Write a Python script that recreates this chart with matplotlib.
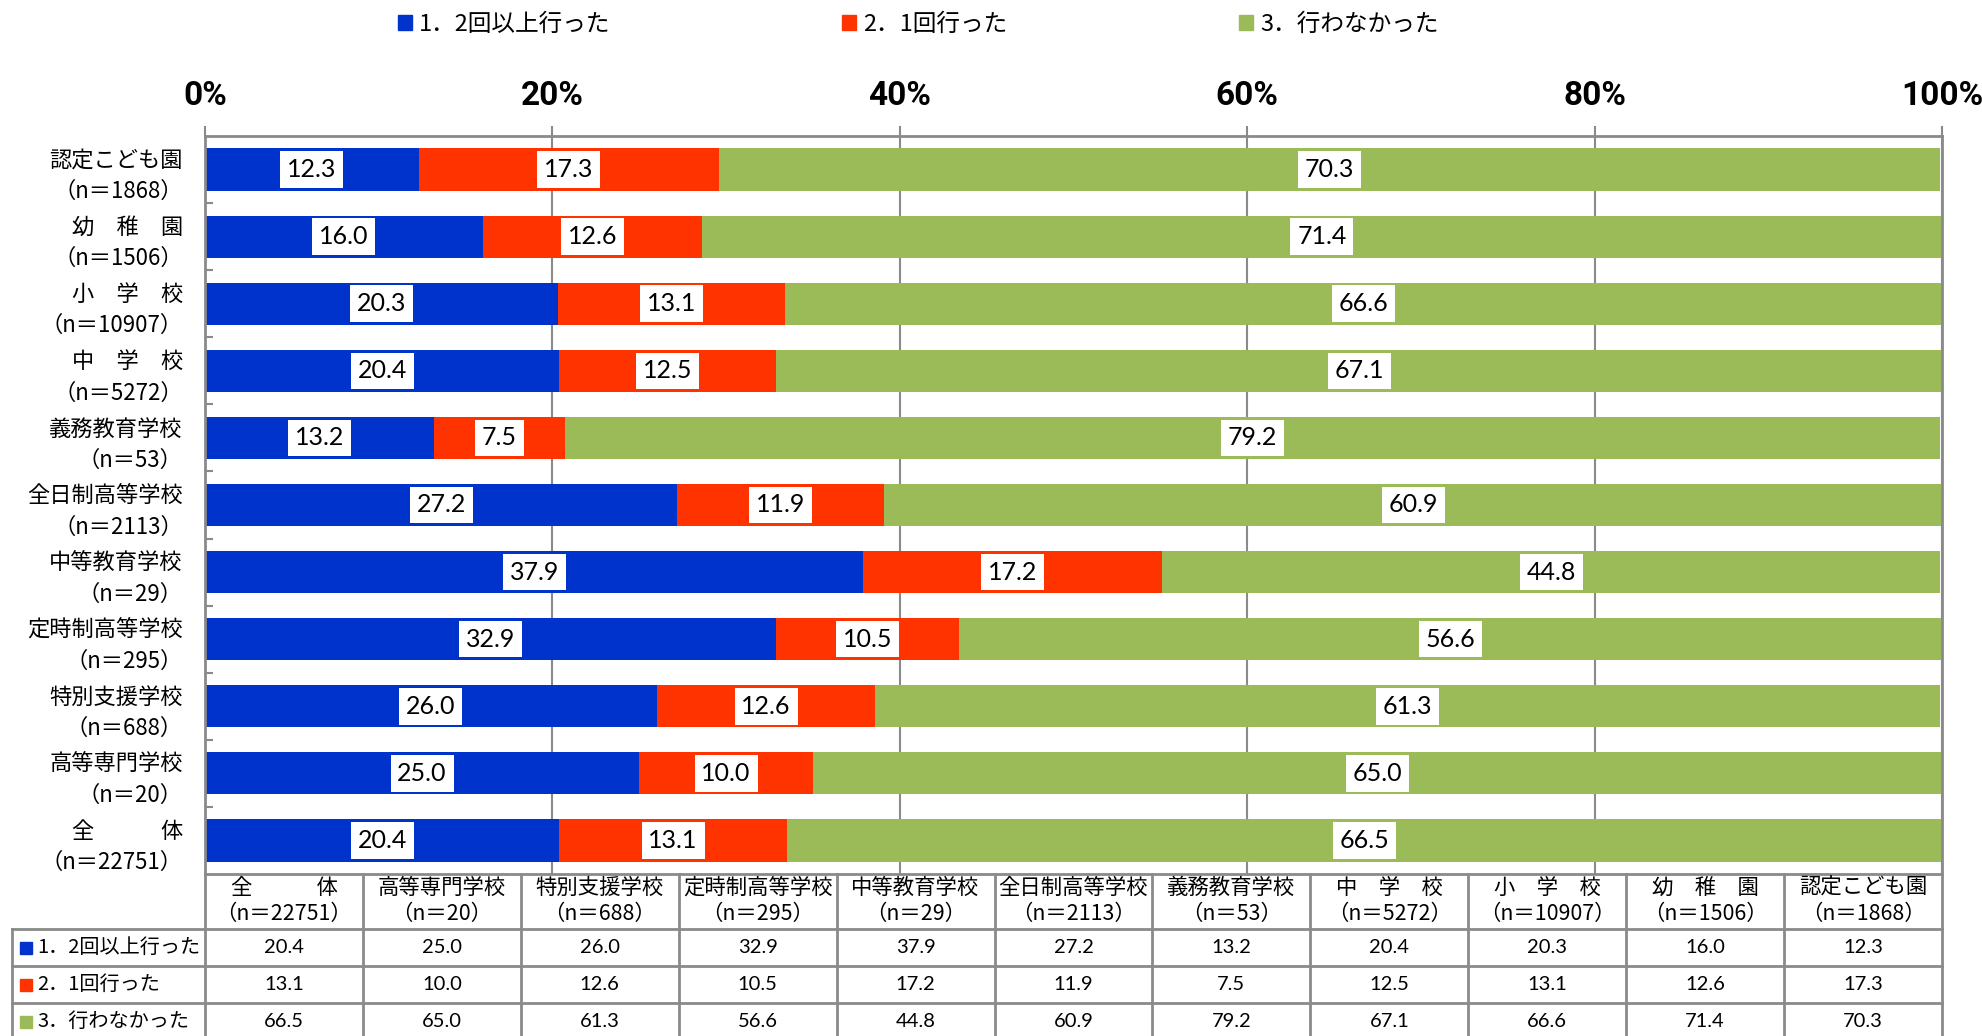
import numpy as np
import matplotlib
matplotlib.use('Agg')
import matplotlib.pyplot as plt
import matplotlib.transforms as mtransforms
from matplotlib.patches import Patch, Rectangle
from matplotlib.ticker import FixedLocator

plt.rcParams['font.family'] = ['Noto Sans CJK JP', 'DejaVu Sans']

# categories bottom-to-top (same order as the table, left-to-right)
names = ['全　　　体', '高等専門学校', '特別支援学校', '定時制高等学校', '中等教育学校',
         '全日制高等学校', '義務教育学校', '中　学　校', '小　学　校', '幼　稚　園', '認定こども園']
ns = [22751, 20, 688, 295, 29, 2113, 53, 5272, 10907, 1506, 1868]
twice = [20.4, 25.0, 26.0, 32.9, 37.9, 27.2, 13.2, 20.4, 20.3, 16.0, 12.3]
once = [13.1, 10.0, 12.6, 10.5, 17.2, 11.9, 7.5, 12.5, 13.1, 12.6, 17.3]
never = [66.5, 65.0, 61.3, 56.6, 44.8, 60.9, 79.2, 67.1, 66.6, 71.4, 70.3]
series_names = ['1．2回以上行った', '2．1回行った', '3．行わなかった']
colors = ['#0033CC', '#FF3300', '#9BBB59']
xticks = [0, 20, 40, 60, 80, 100]

W, H = 1983, 1036
fig = plt.figure(figsize=(W / 100, H / 100), dpi=100)
grey = '#8A8A8A'

x0, x1, ytop, ybot = 205, 1942, 136, 874
ax = fig.add_axes([x0 / W, 1 - ybot / H, (x1 - x0) / W, (ybot - ytop) / H])

y = np.arange(len(names))
series = [twice, once, never]
left = np.zeros(len(names))
for vals, c in zip(series, colors):
    vals = np.array(vals)
    ax.barh(y, vals, left=left, height=0.63, color=c, zorder=2)
    for yi, l, v in zip(y, left, vals):
        ax.text(l + v / 2, yi, f'{v:.1f}', ha='center', va='center', fontsize=18,
                family=['Lato', 'DejaVu Sans'], zorder=4,
                bbox=dict(boxstyle='square,pad=0.27', fc='white', ec='none'))
    left += vals

ax.set_xlim(0, 100)
ax.set_ylim(-0.5, len(names) - 0.5)
ax.xaxis.tick_top()
ax.set_xticks(xticks)
ax.set_xticklabels([f'{t}%' for t in xticks], fontsize=24, fontweight='bold',
                   family=['Roboto', 'DejaVu Sans'])
ax.tick_params(axis='x', length=7, width=1.5, color=grey, pad=10)
ax.grid(axis='x', color=grey, lw=1.5, zorder=1)
ax.set_axisbelow(True)

ax.set_yticks(y)
ax.set_yticklabels([f'{n}\n（n＝{k}）' for n, k in zip(names, ns)], fontsize=16,
                   linespacing=1.45, ha='right')
up = mtransforms.ScaledTranslation(0, 4 / 72, fig.dpi_scale_trans)
for lab in ax.get_yticklabels():
    lab.set_transform(lab.get_transform() + up)
ax.yaxis.set_minor_locator(FixedLocator(y[:-1] + 0.5))
ax.tick_params(axis='y', which='major', length=0, pad=16)
ax.tick_params(axis='y', which='minor', length=6, width=1.5, color=grey, direction='in')
for s in ax.spines.values():
    s.set_color(grey)
    s.set_linewidth(2)

# legend
handles = [Patch(color=c, label=s) for c, s in zip(colors, series_names)]
fig.legend(handles=handles, loc='center', bbox_to_anchor=(0.463, 1 - 24 / H), ncol=3,
           frameon=False, fontsize=17, handlelength=0.6, handleheight=0.6,
           handletextpad=0.3, columnspacing=9.8)

# data table below the chart, drawn in pixel coordinates
tab = fig.add_axes([0, 0, 1, 1], zorder=5)
tab.set_xlim(0, W)
tab.set_ylim(H, 0)
tab.axis('off')
cw = (x1 - x0) / len(names)
hdr_bot = 929
rh = 37
row_lines = [hdr_bot + i * rh for i in range(4)]
lkw = dict(color=grey, lw=2)
tab.plot([x0, x0], [ybot, H], **lkw)
for j in range(1, len(names) + 1):
    xx = x0 + j * cw
    tab.plot([xx, xx], [ybot, H], **lkw)
for yy in row_lines:
    tab.plot([12, x1], [yy, yy], **lkw)
tab.plot([12, 12], [hdr_bot, H], **lkw)

for j, (n, k) in enumerate(zip(names, ns)):
    cx = x0 + (j + 0.5) * cw
    tab.text(cx, 888, n, ha='center', va='center', fontsize=15.4)
    tab.text(cx, 914, f'（n＝{k}）', ha='center', va='center', fontsize=15.4)
    for i, vals in enumerate(series):
        tab.text(cx, hdr_bot + (i + 0.5) * rh, f'{vals[j]:.1f}', ha='center',
                 va='center', fontsize=14.5, family=['Lato', 'DejaVu Sans'])

for i, (s, c) in enumerate(zip(series_names, colors)):
    cy = hdr_bot + (i + 0.5) * rh
    tab.add_patch(Rectangle((20, cy - 6), 12, 12, color=c))
    tab.text(37, cy, s, ha='left', va='center', fontsize=14.5)

fig.savefig('out.png', dpi=100)
